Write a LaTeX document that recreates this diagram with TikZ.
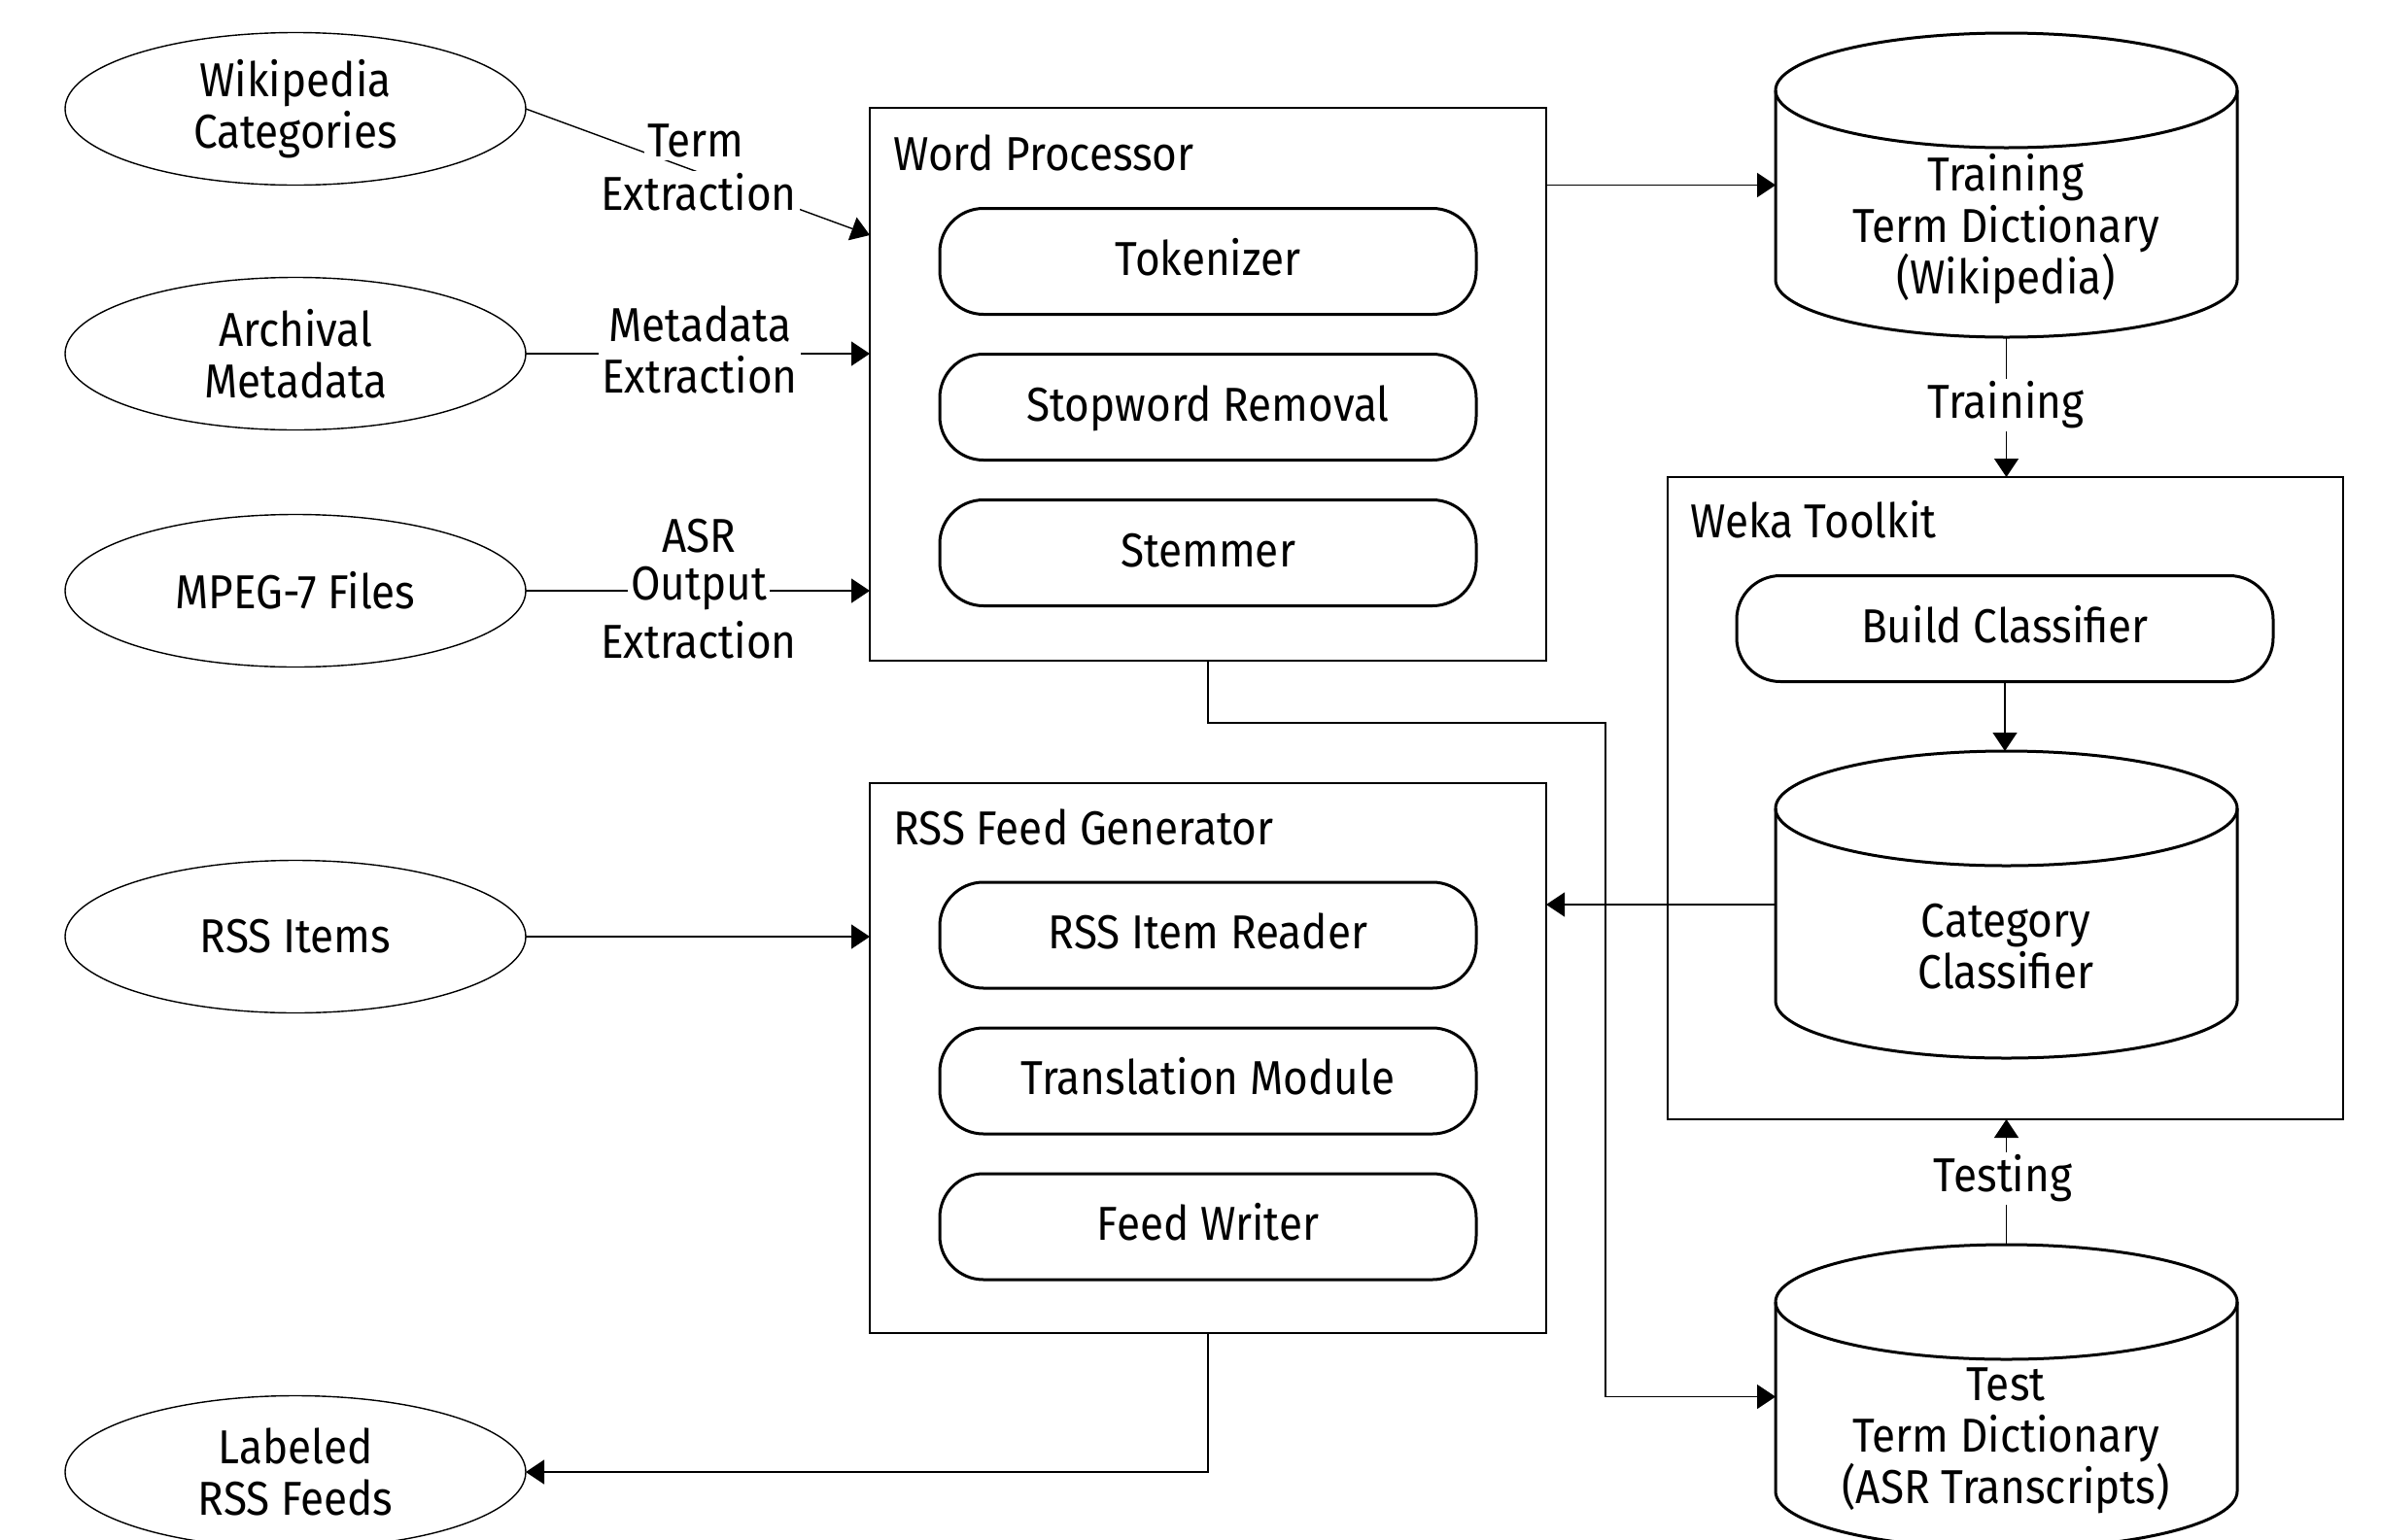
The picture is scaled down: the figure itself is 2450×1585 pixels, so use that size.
\documentclass[tikz,border=0pt]{standalone}
\usepackage{fontspec}
\setmainfont[FakeStretch=0.9]{Fira Sans}
\usetikzlibrary{arrows.meta,calc,shapes.geometric}

% cylinder drawn by hand: name, x0, y0, x1, y1, end radius (pixel-style coordinates)
\newcommand\drumnode[6]{%
  \node[inner sep=0pt, outer sep=0pt, minimum width={(#4-#2)*1pt}, minimum height={(#5-#3)*1pt}]
    (#1) at ({(#2+#4)/2},{(#3+#5)/2}) {};
  \draw[drum] ({(#2+#4)/2},{#3+#6}) ellipse [x radius={(#4-#2)/2*1pt}, y radius={#6*1pt}];
  \draw[drum] (#2,{#3+#6}) -- (#2,{#5-#6})
    arc[start angle=180, end angle=360, x radius={(#4-#2)/2*1pt}, y radius={#6*1pt}]
    -- (#4,{#3+#6});
}

\begin{document}
\begin{tikzpicture}[x=1pt,y=-1pt,
  every node/.style={font=\fontsize{49}{53}\selectfont},
  conn/.style={line width=1.4pt, -{Triangle[length=19pt,width=25pt]}},
  src/.style={draw, ellipse, line width=1.4pt, minimum width=474pt, minimum height=157pt,
    inner sep=0pt, outer sep=0pt, align=center},
  panel/.style={draw, rectangle, line width=1.4pt, inner sep=0pt, outer sep=0pt},
  stepbox/.style={draw, rectangle, line width=3pt, rounded corners=45pt,
    minimum width=552pt, minimum height=109pt, inner sep=0pt, outer sep=0pt,
    text height=34pt, text depth=6pt},
  drum/.style={line width=3pt},
  lbl/.style={fill=white, inner sep=3pt, align=center},
  plain/.style={inner sep=0pt, align=center},
  title/.style={anchor=base west, inner sep=0pt},
]
\useasboundingbox (0,0) rectangle (2450,1585);

% input and output sources
\node[src] (wiki) at (304,112) {Wikipedia\\Categories};
\node[src] (arch) at (304,364) {Archival\\Metadata};
\node[src] (mpeg) at (304,608) {MPEG-7 Files};
\node[src] (rssin) at (304,964) {RSS Items};
\node[src] (rssout) at (304,1515) {Labeled\\RSS Feeds};

% word processor
\node[panel, minimum width=696pt, minimum height=569pt] (wp) at (1243,395.5) {};
\node[title] (wptitle) at (919,175) {Word Processor};
\node[stepbox] (tok) at (1243,269) {Tokenizer};
\node[stepbox] (stop) at (1243,419) {Stopword Removal};
\node[stepbox] (stem) at (1243,569) {Stemmer};

% RSS feed generator
\node[panel, minimum width=696pt, minimum height=566pt] (gen) at (1243,1089) {};
\node[title] (gentitle) at (919,869) {RSS Feed Generator};
\node[stepbox] (reader) at (1243,962.5) {RSS Item Reader};
\node[stepbox] (trans) at (1243,1112.5) {Translation Module};
\node[stepbox] (writer) at (1243,1262.5) {Feed Writer};

% Weka toolkit
\node[panel, minimum width=695pt, minimum height=661pt] (weka) at (2063.5,821.5) {};
\node[title] (wekatitle) at (1739,553) {Weka Toolkit};
\node[stepbox] (build) at (2063,647) {Build Classifier};

% data stores
\drumnode{train}{1827}{34}{2302}{347}{59}
\node[plain] (traintext) at (2064,236) {Training\\Term Dictionary\\(Wikipedia)};
\drumnode{cat}{1827}{773}{2302}{1089}{59}
\node[plain] (cattext) at (2064,974) {Category\\Classifier};
\drumnode{test}{1827}{1281}{2302}{1594}{59}
\node[plain] (testtext) at (2064,1483) {Test\\Term Dictionary\\(ASR Transcripts)};

% extraction into the word processor
\coordinate (wpin) at ($(wp.north west)+(0,131)$);
\draw[conn] (wiki.east) -- (wpin);
\node[lbl] (termA) at (716,145) {Term};
\node[lbl] (termB) at (719,198) {Extraction};
\draw[conn] (arch.east) -- (arch.east -| wp.west);
\node[lbl] (metalbl) at (720,360) {Metadata\\Extraction};
\draw[conn] (mpeg.east) -- (mpeg.east -| wp.west);
\node[plain] (asrA) at (719,552) {ASR};
\node[lbl] (asrB) at (719,606) {Output};
\node[plain] (asrC) at (719,659) {Extraction};

% RSS items into the generator
\draw[conn] (rssin.east) -- (rssin.east -| gen.west);

% word processor to dictionaries
\draw[conn] (wp.east |- train.west) -- (train.west);
\coordinate (bend) at (1652,744);
\draw[conn] (wp.south) |- (bend) |- (test.west);

% training and testing
\draw[conn] (train.south) -- (train.south |- weka.north);
\node[lbl] (trainlbl) at (2064,417) {Training};
\draw[conn] (build.south) -- (build.south |- cat.north);
\draw[conn] (test.north) -- (test.north |- weka.south);
\node[lbl] (testlbl) at (2061,1213) {Testing};

% classifier to generator, generator to output
\draw[conn] (cat.west) -- (cat.west -| gen.east);
\draw[conn] (gen.south) |- (rssout.east);
\end{tikzpicture}
\end{document}
